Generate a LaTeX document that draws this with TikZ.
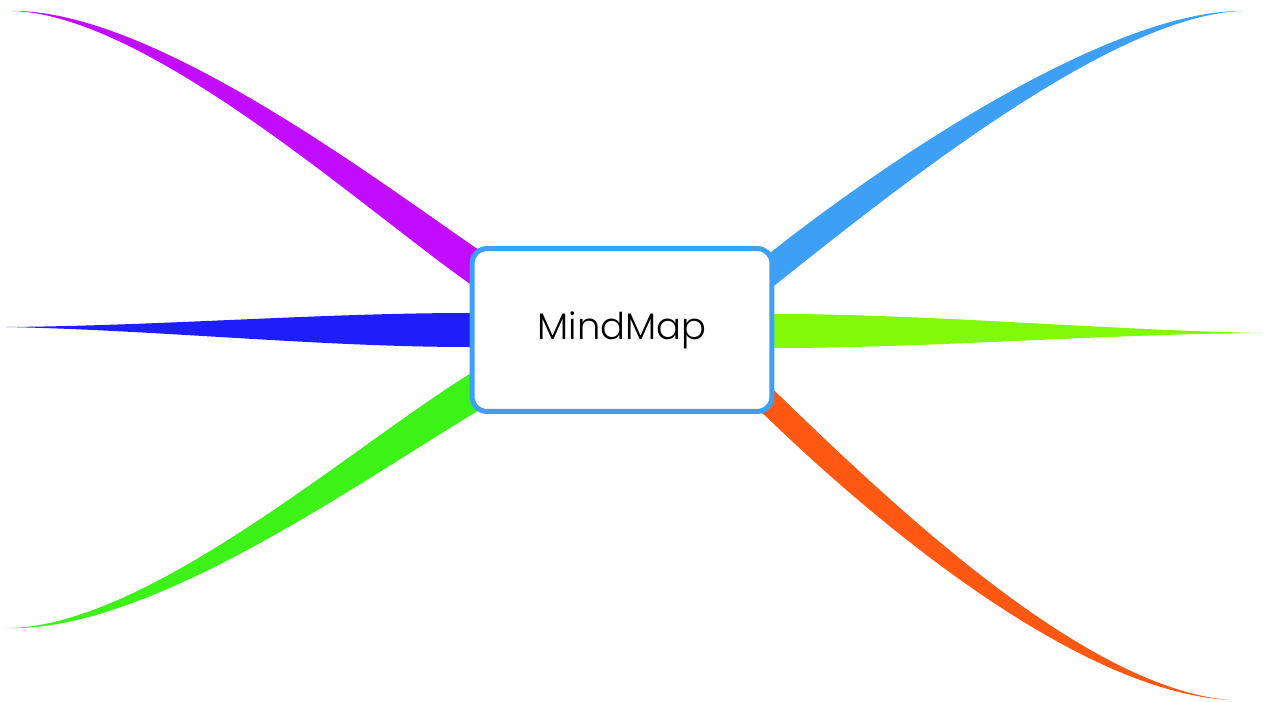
\documentclass[tikz,border=0pt]{standalone}
\usepackage{fontspec}
\setmainfont{Poppins}[UprightFont=* Light]
\usetikzlibrary{calc, backgrounds}
\definecolor{mapblue}{RGB}{62,160,245}
\definecolor{purplebr}{RGB}{193,12,255}
\definecolor{navybr}{RGB}{30,30,250}
\definecolor{limebr}{RGB}{128,250,10}
\definecolor{greenbr}{RGB}{60,242,22}
\definecolor{orangebr}{RGB}{255,88,18}
\tikzstyle{root} = [rectangle, rounded corners=0.3cm, minimum width=6cm, minimum height=3.26cm, text centered, line width=0.1cm, draw=mapblue, fill=white, font=\fontsize{21}{25}\selectfont]
% tapered branch: colour, tip, control near tip, control near root, root, half width
\newcommand{\branch}[6]{%
  \fill[#1] (#2) .. controls ($(#3)+(0,-#6/8)$) and ($(#4)+(0,-#6)$) .. ($(#5)+(0,-#6)$)
    -- (map.center) -- ($(#5)+(0,#6)$)
    .. controls ($(#4)+(0,#6)$) and ($(#3)+(0,#6/8)$) .. (#2) -- cycle;
}

\begin{document}
\begin{tikzpicture}[x=0.02cm, y=-0.02cm]
\useasboundingbox (0,0) rectangle (1266,702);

\node (map) [root] at (622,330) {MindMap};

% free ends of the branches
\coordinate (tipNW) at (12,11);
\coordinate (tipNE) at (1243,11);
\coordinate (tipW) at (6,327);
\coordinate (tipE) at (1262,333);
\coordinate (tipSW) at (7,628);
\coordinate (tipSE) at (1230,700);

% where they meet the box
\coordinate (rootNW) at ($(map.north west)+(5,21)$);
\coordinate (rootNE) at ($(map.north east)+(-2,23)$);
\coordinate (rootW) at (map.west);
\coordinate (rootE) at ($(map.east)+(0,1)$);
\coordinate (rootSW) at ($(map.south west)+(10,-25)$);
\coordinate (rootSE) at ($(map.south east)+(-10,-16)$);

\begin{pgfonlayer}{background}
 \branch{purplebr}{tipNW}{150,12}{370,195}{rootNW}{20}
 \branch{mapblue}{tipNE}{1110,12}{885,180}{rootNE}{18}
 \branch{navybr}{tipW}{160,328}{320,330}{rootW}{17}
 \branch{limebr}{tipE}{1100,332}{930,331}{rootE}{17}
 \branch{greenbr}{tipSW}{150,630}{360,460}{rootSW}{21}
 \branch{orangebr}{tipSE}{1080,690}{880,510}{rootSE}{17}
\end{pgfonlayer}

\end{tikzpicture}
\end{document}
